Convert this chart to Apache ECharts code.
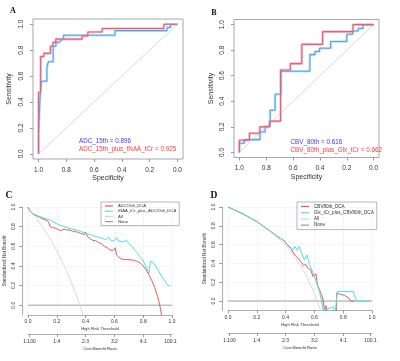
<!DOCTYPE html>
<html>
<head>
<meta charset="utf-8">
<script src="https://cdn.jsdelivr.net/npm/echarts@6/dist/echarts.min.js"></script>
<style>
  html, body { margin: 0; padding: 0; background: #fff; }
  #chart { width: 400px; height: 361px; }
</style>
</head>
<body>
<div id="chart"></div>
<script>
// ---- panel A, ROC points as [specificity, sensitivity]
const rocAdc15 = [[1, 0], [1, 0.15], [0.99, 0.15], [0.99, 0.42], [0.98, 0.42], [0.98, 0.56], [0.94, 0.56], [0.94, 0.665], [0.93, 0.665], [0.93, 0.71], [0.895, 0.71], [0.895, 0.83], [0.875, 0.83], [0.875, 0.86], [0.855, 0.86], [0.855, 0.875], [0.835, 0.875], [0.835, 0.89], [0.82, 0.89], [0.82, 0.915], [0.45, 0.915], [0.45, 0.95], [0.075, 0.95], [0.075, 0.975], [0.05, 0.975], [0.05, 1], [0, 1]]
const rocAdc15Naa = [[1, 0], [1, 0.475], [0.985, 0.475], [0.985, 0.75], [0.962, 0.75], [0.962, 0.775], [0.914, 0.775], [0.914, 0.83], [0.897, 0.83], [0.897, 0.86], [0.876, 0.86], [0.876, 0.885], [0.686, 0.885], [0.686, 0.91], [0.645, 0.91], [0.645, 0.94], [0.542, 0.94], [0.542, 0.967], [0.098, 0.967], [0.098, 1], [0, 1]]

// ---- panel B
const rocCbv80 = [[1, 0], [1, 0.072], [0.963, 0.072], [0.963, 0.1], [0.846, 0.1], [0.846, 0.16], [0.808, 0.16], [0.808, 0.205], [0.771, 0.205], [0.771, 0.33], [0.734, 0.33], [0.734, 0.455], [0.69, 0.455], [0.69, 0.635], [0.475, 0.635], [0.475, 0.765], [0.437, 0.765], [0.437, 0.79], [0.403, 0.79], [0.403, 0.815], [0.32, 0.815], [0.32, 0.868], [0.2, 0.868], [0.2, 0.925], [0.155, 0.925], [0.155, 0.95], [0.115, 0.95], [0.115, 0.97], [0.08, 0.97], [0.08, 1], [0, 1]]
const rocCbv80Glx = [[1, 0], [1, 0.095], [0.925, 0.095], [0.925, 0.15], [0.848, 0.15], [0.848, 0.2], [0.775, 0.2], [0.775, 0.245], [0.693, 0.245], [0.693, 0.645], [0.62, 0.645], [0.62, 0.695], [0.535, 0.695], [0.535, 0.845], [0.38, 0.845], [0.38, 0.945], [0.154, 0.945], [0.154, 1], [0, 1]]
const rocDiagonal = [[1, 0], [0, 1]]

// ---- panel C, DCA points as [threshold, standardized net benefit]
const dcaAdc15 = [[0, 1], [0.01, 0.965], [0.025, 0.94], [0.04, 0.925], [0.06, 0.91], [0.08, 0.895], [0.1, 0.88], [0.12, 0.87], [0.14, 0.855], [0.15, 0.845], [0.155, 0.8], [0.17, 0.79], [0.19, 0.785], [0.21, 0.77], [0.23, 0.76], [0.25, 0.775], [0.27, 0.765], [0.29, 0.765], [0.31, 0.755], [0.33, 0.75], [0.35, 0.74], [0.37, 0.73], [0.39, 0.72], [0.4, 0.745], [0.41, 0.705], [0.43, 0.68], [0.45, 0.66], [0.47, 0.655], [0.49, 0.64], [0.51, 0.625], [0.53, 0.6], [0.55, 0.585], [0.57, 0.56], [0.59, 0.56], [0.605, 0.585], [0.615, 0.51], [0.63, 0.49], [0.65, 0.47], [0.67, 0.465], [0.69, 0.465], [0.7, 0.48], [0.72, 0.46], [0.74, 0.455], [0.76, 0.445], [0.78, 0.43], [0.8, 0.4], [0.82, 0.36], [0.84, 0.31], [0.86, 0.25], [0.88, 0.18], [0.9, 0.09], [0.915, 0], [0.925, -0.08], [0.93, -0.12]]
const dcaAdc15Naa = [[0, 1], [0.01, 0.965], [0.03, 0.935], [0.06, 0.915], [0.09, 0.9], [0.12, 0.88], [0.15, 0.87], [0.16, 0.86], [0.18, 0.845], [0.2, 0.83], [0.22, 0.815], [0.25, 0.8], [0.28, 0.785], [0.31, 0.775], [0.34, 0.765], [0.37, 0.75], [0.4, 0.73], [0.43, 0.72], [0.46, 0.705], [0.49, 0.69], [0.52, 0.68], [0.54, 0.665], [0.56, 0.695], [0.58, 0.65], [0.6, 0.66], [0.615, 0.69], [0.63, 0.65], [0.66, 0.645], [0.685, 0.66], [0.7, 0.625], [0.72, 0.6], [0.74, 0.565], [0.76, 0.53], [0.78, 0.49], [0.8, 0.45], [0.82, 0.39], [0.84, 0.325], [0.85, 0.45], [0.87, 0.43], [0.89, 0.395], [0.91, 0.34], [0.93, 0.29], [0.95, 0.245], [0.97, 0.205], [0.99, 0.195]]
const dcaAllC = [[0, 1], [0.05, 0.905], [0.1, 0.8], [0.15, 0.685], [0.2, 0.555], [0.25, 0.405], [0.3, 0.24], [0.33, 0.12], [0.36, 0], [0.385, -0.11]]

// ---- panel D
const dcaCbv80 = [[0, 1], [0.1, 0.93], [0.2, 0.845], [0.3, 0.735], [0.34, 0.69], [0.37, 0.66], [0.39, 0.64], [0.41, 0.6], [0.43, 0.575], [0.44, 0.56], [0.455, 0.51], [0.47, 0.48], [0.49, 0.45], [0.51, 0.41], [0.525, 0.375], [0.54, 0.39], [0.555, 0.35], [0.575, 0.33], [0.59, 0.26], [0.6, 0.25], [0.611, 0.29], [0.62, 0.18], [0.635, 0.12], [0.65, 0.065], [0.662, 0], [0.67, -0.1], [0.68, -0.05], [0.69, -0.12], [0.74, -0.3], [0.752, -0.12], [0.755, 0.085], [0.78, 0.07], [0.81, 0.06], [0.84, 0.03], [0.85, 0], [0.88, 0]]
const dcaCbv80Glx = [[0, 1], [0.1, 0.93], [0.2, 0.845], [0.3, 0.735], [0.35, 0.675], [0.37, 0.66], [0.385, 0.65], [0.4, 0.63], [0.42, 0.58], [0.44, 0.55], [0.455, 0.55], [0.465, 0.58], [0.48, 0.54], [0.495, 0.58], [0.51, 0.51], [0.53, 0.44], [0.548, 0.49], [0.565, 0.39], [0.59, 0.3], [0.615, 0.2], [0.635, 0.1], [0.65, 0], [0.66, -0.1], [0.7, -0.08], [0.73, -0.06], [0.745, -0.12], [0.755, -0.12], [0.758, 0.1], [0.87, 0.1], [0.893, 0], [0.99, 0]]
const dcaAllD = [[0, 1], [0.1, 0.93], [0.2, 0.845], [0.3, 0.735], [0.35, 0.67], [0.4, 0.59], [0.45, 0.5], [0.5, 0.385], [0.55, 0.25], [0.6, 0.08], [0.62, 0], [0.645, -0.11]]
const dcaNone = [[0, 0], [1, 0]]

// ---- ticks
const unitTicks = [0, 0.2, 0.4, 0.6, 0.8, 1]
const costTicks = [0.01, 0.2, 0.4, 0.6, 0.8, 0.99]
const costLabels = ['1:100', '1:4', '2:3', '3:2', '4:1', '100:1']

const FONT = 'Liberation Sans, Arial, sans-serif'
const TXT = '#333'
const AX = '#9a9a9a'

const blue = '#55a6e8'
const blueLight = '#c4e0f6'
const pink = '#e2627c'
const pinkLight = '#f6c3cf'
const red = '#e25b5b'
const cyan = '#4fe0e0'
const allGray = '#d6d6d6'
const noneGray = '#9a9a9a'

const fmt1 = v => v.toFixed(1)
const fmtCost = v => {
  const i = costTicks.findIndex(t => Math.abs(t - v) < 1e-6)
  return i < 0 ? '' : costLabels[i]
}

function rocX(grid, labelMargin, nameGap) {
  return {
    gridIndex: grid, type: 'value', min: -0.04, max: 1.04, inverse: true,
    axisLine: { show: false, onZero: false },
    axisTick: { customValues: unitTicks, length: 3, lineStyle: { color: AX } },
    axisLabel: { customValues: unitTicks, formatter: fmt1, fontSize: 6.5, color: TXT, fontFamily: FONT, margin: labelMargin },
    splitLine: { show: false },
    name: 'Specificity', nameLocation: 'middle', nameGap: nameGap,
    nameTextStyle: { fontSize: 7, color: TXT, fontFamily: FONT }
  }
}
function rocY(grid, labelMargin, nameGap) {
  return {
    gridIndex: grid, type: 'value', min: -0.04, max: 1.04,
    axisLine: { show: false, onZero: false },
    axisTick: { customValues: unitTicks, length: 3, lineStyle: { color: AX } },
    axisLabel: { customValues: unitTicks, formatter: fmt1, fontSize: 6.5, color: TXT, fontFamily: FONT, margin: labelMargin, rotate: 90 },
    splitLine: { show: false },
    name: 'Sensitivity', nameLocation: 'middle', nameGap: nameGap,
    nameTextStyle: { fontSize: 7, color: TXT, fontFamily: FONT }
  }
}
function thrX(grid, nameGap) {
  return {
    gridIndex: grid, type: 'value', min: 0, max: 1, interval: 0.2, position: 'bottom',
    axisLine: { show: true, onZero: false, lineStyle: { color: AX, width: 0.8 } },
    axisTick: { length: 3, lineStyle: { color: AX } },
    axisLabel: { formatter: fmt1, fontSize: 5, color: TXT, fontFamily: FONT, margin: 4.5 },
    splitLine: { show: true, lineStyle: { color: '#efefef', width: 0.6 } },
    name: 'High Risk Threshold', nameLocation: 'middle', nameGap: nameGap,
    nameTextStyle: { fontSize: 4.2, color: TXT, fontFamily: FONT }
  }
}
function costX(grid, offset) {
  return {
    gridIndex: grid, type: 'value', min: 0, max: 1, position: 'bottom', offset: offset,
    axisLine: { show: true, onZero: false, lineStyle: { color: AX, width: 0.8 } },
    axisTick: { customValues: costTicks, length: 3, lineStyle: { color: AX } },
    axisLabel: { customValues: costTicks, formatter: fmtCost, fontSize: 5, color: TXT, fontFamily: FONT, margin: 5 },
    splitLine: { show: false },
    name: 'Cost:Benefit Ratio', nameLocation: 'middle', nameGap: 13,
    nameTextStyle: { fontSize: 4.2, color: TXT, fontFamily: FONT }
  }
}
function nbY(grid) {
  return {
    gridIndex: grid, type: 'value', min: -0.1, max: 1, offset: 6,
    axisLine: { show: true, onZero: false, lineStyle: { color: AX, width: 0.8 } },
    axisTick: { customValues: unitTicks, length: 3, lineStyle: { color: AX } },
    axisLabel: { customValues: unitTicks, formatter: fmt1, fontSize: 5, color: TXT, fontFamily: FONT, margin: 6, rotate: 90 },
    splitLine: { show: true, lineStyle: { color: '#efefef', width: 0.6 } },
    name: 'Standardized Net Benefit', nameLocation: 'middle', nameGap: 15,
    nameTextStyle: { fontSize: 4.6, color: TXT, fontFamily: FONT }
  }
}

function line(name, data, color, width, axis, z) {
  return {
    name: name, type: 'line', data: data, xAxisIndex: axis[0], yAxisIndex: axis[1],
    symbol: 'none', lineStyle: { color: color, width: width }, itemStyle: { color: color },
    z: z, silent: true, animation: false
  }
}

function legendFor(names, left, top, size) {
  return {
    data: names, left: left, top: top, orient: 'vertical', icon: 'rect',
    itemWidth: 8, itemHeight: 1.2, itemGap: 1.2, padding: [2, 3, 2, 4],
    borderColor: '#999', borderWidth: 0.7, selectedMode: false,
    textStyle: { fontSize: size, color: TXT, fontFamily: FONT }
  }
}

function letter(ch, x, y, size) {
  return { type: 'text', x: x, y: y, style: { text: ch, fill: '#111', font: 'bold ' + size + 'px "Liberation Serif", "DejaVu Serif", serif', align: 'center', verticalAlign: 'middle' } }
}
function auc(txt, x, y, color) {
  return { type: 'text', x: x, y: y, style: { text: txt, fill: color, font: '6.3px ' + FONT, align: 'left', verticalAlign: 'middle' } }
}

const chart = echarts.init(document.getElementById('chart'))
const option = {
  backgroundColor: '#fff',
  animation: false,
  grid: [
    { left: 33, top: 19, width: 150, height: 140, show: true, borderColor: '#a8a8a8', borderWidth: 1 },
    { left: 234, top: 19.5, width: 145, height: 138, show: true, borderColor: '#a8a8a8', borderWidth: 1 },
    { left: 28, top: 207, width: 144, height: 108 },
    { left: 228, top: 207, width: 144, height: 103.4 }
  ],
  xAxis: [
    rocX(0, 7.5, 16),
    rocX(1, 7.5, 16.5),
    thrX(2, 12),
    costX(2, 19),
    thrX(3, 12.5),
    costX(3, 22.6)
  ],
  yAxis: [
    rocY(0, 8.5, 20),
    rocY(1, 8.5, 19),
    nbY(2),
    nbY(3)
  ],
  legend: [
    legendFor(['ADC15th_DCA', 'tNAA_tCr_plus_ADC15th_DCA', 'All', 'None'], 101, 202, 4.2),
    legendFor(['CBV80th_DCA', 'Glx_tCr_plus_CBV80th_DCA', 'All', 'None'], 297, 202, 4.6)
  ],
  graphic: [
    letter('A', 13, 10.5, 8),
    letter('B', 214, 12.5, 8),
    letter('C', 9, 196, 9.5),
    letter('D', 214, 195.5, 9.5),
    auc('ADC_15th = 0.896', 79, 141, '#3a3aff'),
    auc('ADC_15th_plus_tNAA_tCr = 0.925', 79, 149.3, '#ff3a3a'),
    auc('CBV_80th = 0.616', 290.5, 142, '#3a3aff'),
    auc('CBV_80th_plus_Glx_tCr = 0.662', 290.5, 150, '#ff3a3a')
  ],
  series: [
    // A
    line('diagA', rocDiagonal, '#cfcfcf', 0.8, [0, 0], 1),
    line('adcA_bg', rocAdc15, blueLight, 2.6, [0, 0], 2),
    line('adcA', rocAdc15, blue, 1.1, [0, 0], 3),
    line('naaA_bg', rocAdc15Naa, pinkLight, 2.6, [0, 0], 2),
    line('naaA', rocAdc15Naa, pink, 1.1, [0, 0], 4),
    // B
    line('diagB', rocDiagonal, '#cfcfcf', 0.8, [1, 1], 1),
    line('cbvB_bg', rocCbv80, blueLight, 2.6, [1, 1], 2),
    line('cbvB', rocCbv80, blue, 1.1, [1, 1], 3),
    line('glxB_bg', rocCbv80Glx, pinkLight, 2.6, [1, 1], 2),
    line('glxB', rocCbv80Glx, pink, 1.1, [1, 1], 4),
    // C
    line('None', dcaNone, noneGray, 0.9, [2, 2], 2),
    line('All', dcaAllC, allGray, 0.9, [2, 2], 2),
    line('ADC15th_DCA', dcaAdc15, red, 1, [2, 2], 3),
    line('tNAA_tCr_plus_ADC15th_DCA', dcaAdc15Naa, cyan, 1, [2, 2], 3),
    // D
    line('None', dcaNone, noneGray, 0.9, [4, 3], 2),
    line('All', dcaAllD, allGray, 0.9, [4, 3], 2),
    line('CBV80th_DCA', dcaCbv80, red, 1, [4, 3], 3),
    line('Glx_tCr_plus_CBV80th_DCA', dcaCbv80Glx, cyan, 1, [4, 3], 4)
  ]
}
chart.setOption(option)
</script>
</body>
</html>
